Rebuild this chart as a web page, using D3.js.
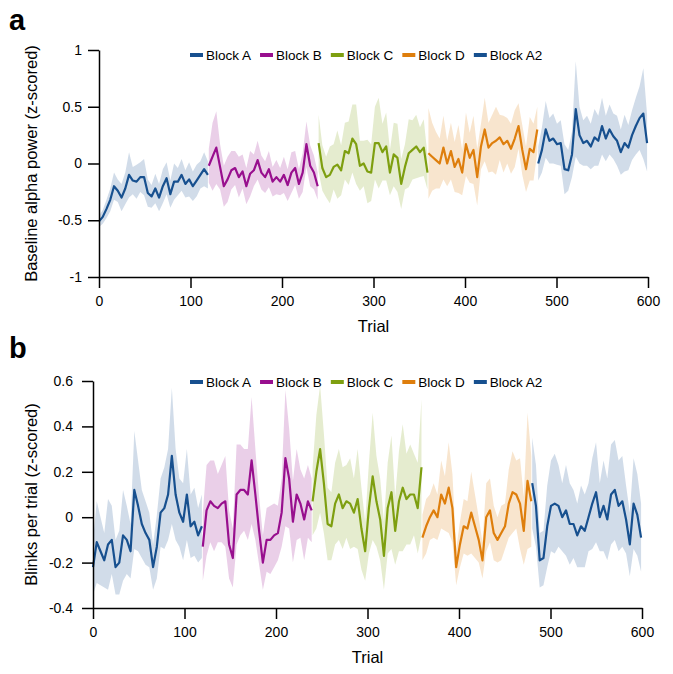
<!DOCTYPE html>
<html>
<head>
<meta charset="utf-8">
<script src="https://cdn.jsdelivr.net/npm/d3@7"></script>
<style>
  html, body { margin: 0; padding: 0; background: #fff; }
  svg { display: block; font-family: "Liberation Sans", Arial, sans-serif; }
</style>
</head>
<body>
<svg id="chart" width="673" height="674"></svg>
<script>
// ---------- data ----------
const blockNames  = ["Block A", "Block B", "Block C", "Block D", "Block A2"];
const blockStarts = [0, 120, 240, 360, 480];
const blockLength = 120;
const blockColors = ["#17508f", "#980f8e", "#7e9f10", "#de7e0c", "#17508f"];

// Panel a: baseline alpha power (z-scored), evenly sampled across each block
const alphaA  = [-0.51,-0.47,-0.40,-0.32,-0.20,-0.24,-0.30,-0.22,-0.10,-0.15,-0.16,-0.12,-0.12,-0.26,-0.29,-0.22,-0.30,-0.20,-0.13,-0.27,-0.16,-0.16,-0.10,-0.18,-0.14,-0.20,-0.15,-0.10,-0.05,-0.10];
const alphaB  = [-0.02,0.06,0.14,-0.03,-0.20,-0.14,-0.06,-0.04,-0.12,-0.07,-0.20,-0.09,-0.06,0.03,-0.08,-0.12,-0.05,-0.16,-0.12,-0.16,-0.10,-0.19,-0.08,-0.04,-0.18,-0.08,0.17,-0.02,-0.08,-0.20];
const alphaC  = [0.18,-0.04,-0.12,-0.10,-0.03,-0.01,-0.06,0.11,0.09,0.22,0.17,-0.02,0.00,-0.07,-0.08,0.18,0.18,0.10,0.15,-0.08,0.08,0.05,-0.18,-0.03,0.09,0.12,0.15,0.10,0.14,-0.08];
const alphaD  = [0.09,0.06,0.03,0.00,0.14,0.00,0.11,-0.03,0.04,-0.08,0.17,0.05,0.12,-0.12,0.15,0.30,0.14,0.18,0.20,0.23,0.17,0.20,0.13,0.22,0.33,0.12,-0.05,0.13,0.10,0.30];
const alphaA2 = [0.00,0.12,0.30,0.20,0.22,0.17,0.18,-0.05,-0.06,0.08,0.48,0.25,0.18,0.20,0.15,0.23,0.20,0.33,0.22,0.30,0.24,0.20,0.10,0.18,0.14,0.25,0.33,0.40,0.44,0.18];
const alphaErrA  = [0.05,0.06,0.08,0.10,0.12,0.10,0.12,0.14,0.20,0.12,0.15,0.13,0.16,0.12,0.10,0.13,0.12,0.15,0.14,0.12,0.16,0.12,0.14,0.12,0.15,0.13,0.14,0.12,0.15,0.12];
const alphaErrB  = [0.15,0.30,0.32,0.20,0.18,0.20,0.17,0.15,0.18,0.15,0.16,0.20,0.14,0.17,0.15,0.14,0.16,0.13,0.15,0.12,0.16,0.14,0.18,0.15,0.13,0.17,0.20,0.18,0.15,0.12];
const alphaErrC  = [0.25,0.20,0.18,0.25,0.20,0.30,0.22,0.25,0.28,0.30,0.35,0.22,0.20,0.28,0.25,0.32,0.40,0.25,0.30,0.20,0.28,0.30,0.22,0.20,0.30,0.26,0.28,0.22,0.25,0.15];
const alphaErrD  = [0.40,0.30,0.25,0.22,0.28,0.20,0.25,0.22,0.30,0.20,0.28,0.22,0.30,0.25,0.20,0.28,0.22,0.25,0.30,0.20,0.25,0.20,0.22,0.25,0.20,0.22,0.20,0.28,0.25,0.20];
const alphaErrA2 = [0.15,0.20,0.25,0.20,0.22,0.18,0.20,0.22,0.18,0.20,0.42,0.25,0.20,0.22,0.20,0.25,0.22,0.25,0.20,0.22,0.20,0.22,0.20,0.25,0.20,0.22,0.25,0.28,0.40,0.25];

// Panel b: blinks per trial (z-scored)
const blinkA  = [-0.22,-0.11,-0.15,-0.19,-0.12,-0.10,-0.22,-0.20,-0.08,-0.10,-0.15,0.12,0.05,-0.03,-0.07,-0.10,-0.22,-0.13,0.02,0.04,0.10,0.27,0.10,0.02,-0.02,0.10,-0.04,-0.02,-0.08,-0.04];
const blinkB  = [-0.13,0.03,0.07,0.05,0.04,0.06,0.07,-0.12,-0.18,0.10,0.12,0.12,0.10,0.25,0.10,-0.06,-0.20,-0.10,-0.10,-0.08,-0.07,0.02,0.26,0.17,-0.02,0.10,0.06,-0.01,0.07,0.03];
const blinkC  = [0.07,0.20,0.30,0.15,-0.03,-0.04,0.06,0.10,0.04,0.07,0.06,0.02,0.08,-0.05,-0.15,0.04,0.18,0.07,-0.01,-0.17,0.04,0.11,-0.06,0.07,0.13,0.08,0.10,0.10,0.04,0.22];
const blinkD  = [-0.09,-0.04,0.00,0.03,0.00,0.10,0.06,0.13,0.04,-0.22,-0.12,-0.04,-0.05,0.02,-0.04,-0.10,-0.19,0.00,0.03,-0.07,-0.10,-0.07,-0.04,0.06,0.11,0.10,0.06,-0.06,0.16,0.07];
const blinkA2 = [0.15,0.05,-0.19,-0.18,-0.04,0.05,0.06,0.05,0.00,0.03,-0.03,-0.03,-0.08,-0.04,-0.06,0.00,0.06,0.11,0.00,0.05,-0.01,0.10,0.12,0.05,0.07,-0.01,-0.12,0.06,0.01,-0.09];
const blinkErrA  = [0.12,0.18,0.15,0.12,0.20,0.15,0.12,0.14,0.20,0.15,0.12,0.26,0.20,0.15,0.14,0.12,0.10,0.14,0.15,0.18,0.20,0.30,0.20,0.15,0.17,0.20,0.14,0.15,0.12,0.14];
const blinkErrB  = [0.15,0.20,0.18,0.20,0.15,0.17,0.20,0.15,0.13,0.22,0.20,0.18,0.20,0.28,0.20,0.15,0.12,0.14,0.15,0.14,0.12,0.15,0.30,0.22,0.18,0.20,0.15,0.18,0.16,0.14];
const blinkErrC  = [0.15,0.25,0.28,0.22,0.16,0.15,0.18,0.20,0.18,0.16,0.20,0.15,0.22,0.18,0.13,0.20,0.28,0.20,0.18,0.15,0.20,0.25,0.15,0.22,0.28,0.20,0.22,0.18,0.20,0.30];
const blinkErrD  = [0.10,0.12,0.10,0.12,0.10,0.15,0.12,0.20,0.15,0.08,0.10,0.12,0.12,0.18,0.14,0.10,0.08,0.15,0.14,0.12,0.10,0.12,0.10,0.15,0.18,0.15,0.20,0.15,0.30,0.20];
const blinkErrA2 = [0.20,0.18,0.12,0.12,0.18,0.20,0.22,0.18,0.15,0.20,0.18,0.15,0.14,0.18,0.16,0.15,0.20,0.22,0.15,0.20,0.18,0.22,0.22,0.20,0.20,0.15,0.14,0.20,0.18,0.15];

const xTicks = [0, 100, 200, 300, 400, 500, 600];
const alphaTicks = [-1, -0.5, 0, 0.5, 1];
const blinkTicks = [-0.4, -0.2, 0, 0.2, 0.4, 0.6];

// ---------- drawing ----------
const svg = d3.select("#chart");
const FONT = '"Liberation Sans", Arial, sans-serif';

function buildBlocks(means, errs) {
  return means.map((m, b) => {
    const n = m.length;
    return m.map((v, i) => ({
      t: blockStarts[b] + i * (blockLength - 1) / (n - 1),
      v: v,
      e: errs[b][i]
    }));
  });
}

function drawPanel(cfg) {
  const x = d3.scaleLinear().domain([0, 600]).range([cfg.left, cfg.right]);
  const y = d3.scaleLinear().domain(cfg.yDomain).range([cfg.bottom, cfg.top]);
  const g = svg.append("g");
  const blocks = buildBlocks(cfg.means, cfg.errs);

  const area = d3.area().x(d => x(d.t)).y0(d => y(d.v - d.e)).y1(d => y(d.v + d.e));
  const line = d3.line().x(d => x(d.t)).y(d => y(d.v));

  blocks.forEach((pts, b) => {
    g.append("path").attr("d", area(pts))
      .attr("fill", blockColors[b]).attr("fill-opacity", 0.2).attr("stroke", "none");
  });
  blocks.forEach((pts, b) => {
    g.append("path").attr("d", line(pts))
      .attr("fill", "none").attr("stroke", blockColors[b])
      .attr("stroke-width", 2.2).attr("stroke-linejoin", "round");
  });

  // axes
  const xAxis = d3.axisBottom(x).tickValues(xTicks).tickSize(11).tickSizeOuter(0)
    .tickPadding(8).tickFormat(d => String(d));
  const yAxis = d3.axisLeft(y).tickValues(cfg.yTicks).tickSize(11).tickSizeOuter(0)
    .tickPadding(cfg.yPad).tickFormat(d => String(d));

  const gx = g.append("g").attr("transform", `translate(0,${cfg.bottom})`).call(xAxis);
  const gy = g.append("g").attr("transform", `translate(${cfg.left},0)`).call(yAxis);
  [gx, gy].forEach(a => {
    a.selectAll("path, line").attr("stroke", "#000").attr("stroke-width", 1.5);
    a.selectAll("text").attr("fill", "#000").style("font-size", "14px")
      .style("font-family", FONT);
  });

  // axis titles
  g.append("text").attr("x", (cfg.left + cfg.right) / 2).attr("y", cfg.bottom + 55)
    .attr("text-anchor", "middle").style("font-size", "16.5px").text("Trial");
  g.append("text")
    .attr("transform", `translate(37,${(cfg.top + cfg.bottom) / 2}) rotate(-90)`)
    .attr("text-anchor", "middle").style("font-size", "16.5px").text(cfg.yTitle);

  // panel letter
  g.append("text").attr("x", 9).attr("y", cfg.letterY)
    .style("font-size", "29px").style("font-weight", "bold").text(cfg.letter);

  // legend
  const lg = g.append("g");
  let cx = 190;
  blockNames.forEach((name, b) => {
    lg.append("line").attr("x1", cx).attr("x2", cx + 13)
      .attr("y1", cfg.legendY).attr("y2", cfg.legendY)
      .attr("stroke", blockColors[b]).attr("stroke-width", 4);
    const t = lg.append("text").attr("x", cx + 16).attr("y", cfg.legendY)
      .attr("dy", "0.35em").style("font-size", "13.5px").text(name);
    cx += 16 + t.node().getComputedTextLength() + 9;
  });
}

drawPanel({
  left: 99, right: 648, top: 50, bottom: 277,
  yDomain: [-1, 1], yTicks: alphaTicks, yPad: 6,
  means: [alphaA, alphaB, alphaC, alphaD, alphaA2],
  errs: [alphaErrA, alphaErrB, alphaErrC, alphaErrD, alphaErrA2],
  yTitle: "Baseline alpha power (z-scored)",
  letter: "a", letterY: 30, legendY: 55
});

drawPanel({
  left: 93, right: 642, top: 381, bottom: 608,
  yDomain: [-0.4, 0.6], yTicks: blinkTicks, yPad: 9,
  means: [blinkA, blinkB, blinkC, blinkD, blinkA2],
  errs: [blinkErrA, blinkErrB, blinkErrC, blinkErrD, blinkErrA2],
  yTitle: "Blinks per trial (z-scored)",
  letter: "b", letterY: 358, legendY: 382
});
</script>
</body>
</html>
